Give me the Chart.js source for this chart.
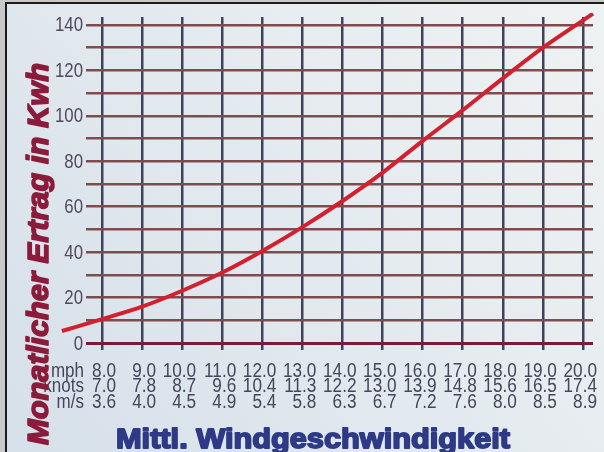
<!DOCTYPE html>
<html>
<head>
<meta charset="utf-8">
<script src="https://cdn.jsdelivr.net/npm/chart.js@4.4.1/dist/chart.umd.min.js"></script>
<style>
html, body { margin: 0; padding: 0; background: #ffffff; }
#wrap { width: 604px; height: 452px; }
</style>
</head>
<body>
<div id="wrap"><canvas id="chart" width="604" height="452"></canvas></div>
<script>
// axis rows under the chart
var mphTicks = [8, 9, 10, 11, 12, 13, 14, 15, 16, 17, 18, 19, 20];
var mphLabels = ['8.0', '9.0', '10.0', '11.0', '12.0', '13.0', '14.0', '15.0', '16.0', '17.0', '18.0', '19.0', '20.0'];
var knotsLabels = ['7.0', '7.8', '8.7', '9.6', '10.4', '11.3', '12.2', '13.0', '13.9', '14.8', '15.6', '16.5', '17.4'];
var msLabels = ['3.6', '4.0', '4.5', '4.9', '5.4', '5.8', '6.3', '6.7', '7.2', '7.6', '8.0', '8.5', '8.9'];
var rowNames = ['mph', 'knots', 'm/s'];

// yield curve (mph -> kWh per month)
var curveMph = [7.0, 8, 9, 10, 11, 12, 13, 14, 15, 16, 17, 18, 19, 20, 20.25];
var curveKwh = [5.3, 10.5, 16, 23, 31, 40.5, 51, 62.5, 75, 89, 102.5, 116.5, 130, 142, 145];

var yTicks = [0, 10, 20, 30, 40, 50, 60, 70, 80, 90, 100, 110, 120, 130, 140];

var yTitle = 'Monatlicher Ertrag in Kwh';
var xTitle = 'Mittl. Windgeschwindigkeit';

var labelFont = '20px "Liberation Sans", Arial, sans-serif';

// draws text squeezed horizontally by factor sx (no narrow font installed)
function narrowText(ctx, str, x, y, sx) {
    ctx.save();
    ctx.translate(x, y);
    ctx.scale(sx, 1);
    ctx.fillText(str, 0, 0);
    ctx.restore();
}

// draws text squeezed/stretched to a given width, with a bit of stroke for weight
function fitText(ctx, str, x, y, width, weight) {
    var w = ctx.measureText(str).width;
    ctx.save();
    ctx.translate(x, y);
    ctx.scale(width / w, 1);
    ctx.lineJoin = 'round';
    ctx.lineWidth = weight;
    ctx.strokeStyle = ctx.fillStyle;
    ctx.strokeText(str, 0, 0);
    ctx.fillText(str, 0, 0);
    ctx.restore();
}

var decor = {
    id: 'decor',
    beforeDraw: function(chart) {
        var ctx = chart.ctx;
        ctx.save();
        ctx.fillStyle = '#c9c9c9';
        ctx.fillRect(0, 0, chart.width, chart.height);
        var g = ctx.createLinearGradient(0, chart.height, chart.width, 0);
        g.addColorStop(0, '#d6e0e9');
        g.addColorStop(0.5, '#e3eaef');
        g.addColorStop(1, '#eff2f2');
        ctx.fillStyle = g;
        ctx.fillRect(7, 4, chart.width - 7, chart.height - 4);
        ctx.fillStyle = '#1c1c1c';
        ctx.fillRect(5, 2, 2, chart.height - 2);
        ctx.fillRect(5, 2, chart.width - 5, 2);
        ctx.restore();
    },
    afterDraw: function(chart) {
        var ctx = chart.ctx;
        var xs = chart.scales.x;
        var ys = chart.scales.y;
        ctx.save();
        ctx.font = labelFont;
        ctx.textAlign = 'right';

        // y tick labels
        ctx.fillStyle = '#52495f';
        ctx.textBaseline = 'middle';
        yTicks.forEach(function(v) {
            if (v % 20 === 0) {
                narrowText(ctx, String(v), 83, ys.getPixelForValue(v) + 1, 0.84);
            }
        });

        // three rows of speed labels
        var rows = [mphLabels, knotsLabels, msLabels];
        var baselines = [377, 392, 408];
        ctx.fillStyle = '#45465a';
        ctx.textBaseline = 'alphabetic';
        for (var r = 0; r < rows.length; r++) {
            narrowText(ctx, rowNames[r], 84, baselines[r], 0.85);
            for (var i = 0; i < mphTicks.length; i++) {
                narrowText(ctx, rows[r][i], xs.getPixelForValue(mphTicks[i]) + 14, baselines[r], 0.86);
            }
        }

        // x title
        ctx.font = 'bold 28px "Liberation Sans", Arial, sans-serif';
        ctx.fillStyle = '#2e3a86';
        ctx.textAlign = 'left';
        fitText(ctx, xTitle, 116, 448, 394, 1.8);

        // y title, rotated
        ctx.save();
        ctx.translate(48, 445);
        ctx.rotate(-Math.PI / 2);
        ctx.font = 'italic bold 30px "Liberation Sans", Arial, sans-serif';
        ctx.fillStyle = '#8c1b3b';
        ctx.textAlign = 'left';
        fitText(ctx, yTitle, 0, 0, 382, 1.6);
        ctx.restore();
        ctx.restore();
    }
};

var ctx = document.getElementById('chart').getContext('2d');

var myChart = new Chart(ctx, {
    type: 'line',
    data: {
        datasets: [{
            data: curveMph.map(function(v, i) { return { x: v, y: curveKwh[i] }; }),
            borderColor: '#d4202e',
            borderWidth: 4,
            pointRadius: 0,
            cubicInterpolationMode: 'monotone',
            clip: false
        }]
    },
    options: {
        responsive: false,
        devicePixelRatio: 1,
        animation: false,
        layout: {
            padding: { top: 17, right: 11, bottom: 0, left: 0 }
        },
        plugins: {
            legend: { display: false },
            tooltip: { enabled: false }
        },
        scales: {
            x: {
                type: 'linear',
                min: 8,
                max: 20.25,
                afterBuildTicks: function(s) {
                    s.ticks = mphTicks.map(function(v) { return { value: v }; });
                },
                afterFit: function(s) { s.height = 109; },
                ticks: { display: false },
                border: { display: false },
                grid: {
                    color: '#3f4259',
                    lineWidth: 2.5,
                    drawTicks: true,
                    tickLength: 7
                }
            },
            y: {
                min: 0,
                max: 143.5,
                afterBuildTicks: function(s) {
                    s.ticks = yTicks.map(function(v) { return { value: v }; });
                },
                afterFit: function(s) { s.width = 102; },
                ticks: { display: false },
                border: { display: false },
                grid: {
                    color: function(c) { return c.tick && c.tick.value === 0 ? '#7a1b3a' : '#7e4c4e'; },
                    lineWidth: function(c) { return c.tick && c.tick.value === 0 ? 3 : 2.5; },
                    drawTicks: true,
                    tickLength: 16
                }
            }
        }
    },
    plugins: [decor]
});
</script>
</body>
</html>
